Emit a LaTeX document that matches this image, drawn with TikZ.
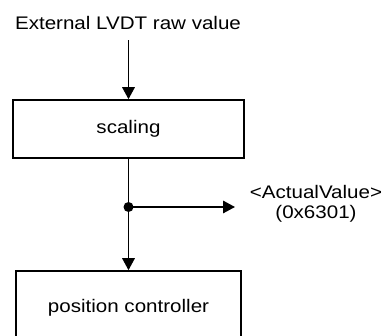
\documentclass[tikz,border=0pt]{standalone}
\usepackage{fontspec}
\setmainfont[FakeStretch=1.13]{Liberation Sans}
\usetikzlibrary{arrows.meta}
\begin{document}
\begin{tikzpicture}[x=1pt,y=-1pt,
  every node/.style={font=\fontsize{18.2}{20}\selectfont},
  blockbox/.style={draw,line width=1.6pt,inner sep=0pt},
  link/.style={line width=1.6pt},
  arr/.style={link,-{Triangle[length=12pt,width=12.5pt]}}]
\useasboundingbox (0,0) rectangle (386,336);
\clip (0,0) rectangle (386,336);
\node[anchor=base,inner sep=0pt] (src) at (128,30) {External LVDT raw value};
\node[blockbox,minimum width=231pt,minimum height=58pt] (scal) at (128.5,129) {scaling};
\node[blockbox,minimum width=225pt,minimum height=74pt,text depth=0pt] (pc) at (128.5,308) {};
\node[anchor=base,inner sep=0pt] (pctext) at (128.5,313) {position controller};
\coordinate (srcend) at (128.5,40.5);
\coordinate (split) at (128.5,207);
\coordinate (out) at (235,207);
\node[anchor=north,align=center,inner sep=0pt] (lab) at (316,185) {<ActualValue>\\(0x6301)};
\draw[arr] (srcend) -- (scal.north);
\draw[arr] (scal.south) -- (pc.north);
\fill (split) circle (5pt);
\draw[arr] (split) -- (out);
\end{tikzpicture}
\end{document}
